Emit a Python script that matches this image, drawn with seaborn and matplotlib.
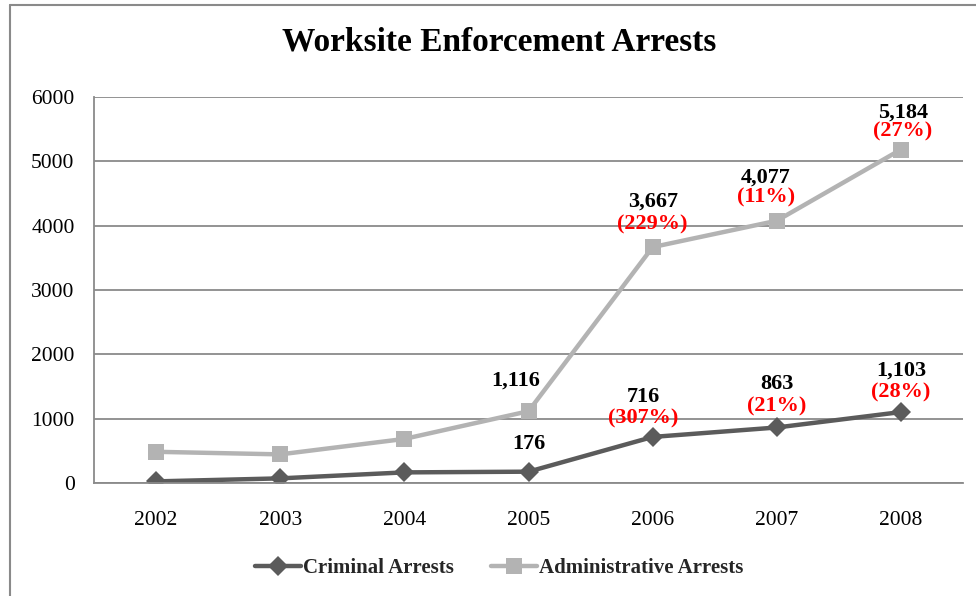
import matplotlib
matplotlib.use("Agg")
import matplotlib.pyplot as plt
from matplotlib.lines import Line2D
import seaborn as sns
import pandas as pd

# Arrest counts by fiscal year
years = ["2002", "2003", "2004", "2005", "2006", "2007", "2008"]
criminal = [25, 72, 165, 176, 716, 863, 1103]
administrative = [485, 445, 685, 1116, 3667, 4077, 5184]

# Year-over-year growth labels (only shown for the later years)
criminal_pct = [None, None, None, None, "(307%)", "(21%)", "(28%)"]
admin_pct = [None, None, None, None, "(229%)", "(11%)", "(27%)"]
labelled_from = 3  # first year index that carries a value label

series_names = ["Criminal Arrests", "Administrative Arrests"]
colors = {"Criminal Arrests": "#5b5b5b", "Administrative Arrests": "#b3b3b3"}
markers = {"Criminal Arrests": "D", "Administrative Arrests": "s"}

df = pd.DataFrame({
    "Year": years * 2,
    "Arrests": criminal + administrative,
    "Series": [series_names[0]] * len(years) + [series_names[1]] * len(years),
})

sns.set_style("white")
plt.rcParams["font.family"] = ["Liberation Serif", "DejaVu Serif"]

fig = plt.figure(figsize=(9.76, 5.96), dpi=100)
ax = fig.add_axes([0.0963, 0.1896, 0.8904, 0.6476])

sns.lineplot(
    data=df, x="Year", y="Arrests", hue="Series", style="Series",
    palette=colors, markers=markers, dashes=False, sort=False,
    linewidth=3.2, markersize=10, markeredgewidth=0, ax=ax, legend=False,
)
# slightly larger squares than diamonds
for line in ax.get_lines():
    if line.get_marker() == "s":
        line.set_markersize(11.5)

ax.set_xlim(-0.5, len(years) - 0.5)
ax.set_ylim(0, 6000)
ax.set_yticks(range(0, 6001, 1000))
ax.set_xlabel("")
ax.set_ylabel("")
ax.tick_params(axis="both", length=0, labelsize=15.5, colors="black")
ax.tick_params(axis="x", pad=20)
ax.tick_params(axis="y", pad=14)
ax.yaxis.grid(True, color="#8a8a8a", linewidth=1.3)
ax.set_axisbelow(True)
for side in ["top", "right"]:
    ax.spines[side].set_visible(False)
for side in ["left", "bottom"]:
    ax.spines[side].set_color("#8a8a8a")
    ax.spines[side].set_linewidth(1.3)


def label_series(values, pcts, offsets):
    for i in range(labelled_from, len(years)):
        dx, dy_val, dy_pct = offsets[i - labelled_from]
        ax.annotate(f"{values[i]:,}", xy=(i, values[i]), xytext=(dx, dy_val),
                    textcoords="offset points", ha="center", va="center",
                    fontsize=16, fontweight="bold", color="black")
        if pcts[i]:
            ax.annotate(pcts[i], xy=(i, values[i]), xytext=(dx, dy_pct),
                        textcoords="offset points", ha="center", va="center",
                        fontsize=16, fontweight="bold", color="#ff0000")


# offsets in points: (dx, value label dy, percent label dy)
label_series(administrative, admin_pct,
             [(-9, 22, 0), (0, 33, 16), (-8, 31, 17), (1.5, 26.5, 13)])
label_series(criminal, criminal_pct,
             [(0, 20, 0), (-7, 29, 13), (0, 31, 15), (0, 29.5, 14)])

fig.text(499 / 976, 1 - 42 / 596, "Worksite Enforcement Arrests",
         ha="center", va="center", fontsize=24, fontweight="bold", color="black")

handles = [
    Line2D([], [], color=colors[n], marker=markers[n], linewidth=3.2,
           markersize=10 if markers[n] == "D" else 11, markeredgewidth=0)
    for n in series_names
]
fig.legend(handles, series_names, loc="center", bbox_to_anchor=(499 / 976, 1 - 568 / 596),
           ncol=2, frameon=False, handlelength=2.2, handletextpad=0.1,
           columnspacing=1.8, prop={"weight": "bold", "size": 15})

# outer frame around the chart area
frame_color = "#8a8a8a"
fig.add_artist(Line2D([10 / 976, 10 / 976], [0, 1 - 5 / 596],
                      transform=fig.transFigure, color=frame_color, linewidth=1.5))
fig.add_artist(Line2D([10 / 976, 1], [1 - 5 / 596, 1 - 5 / 596],
                      transform=fig.transFigure, color=frame_color, linewidth=1.5))

fig.savefig("out.png", dpi=100)
